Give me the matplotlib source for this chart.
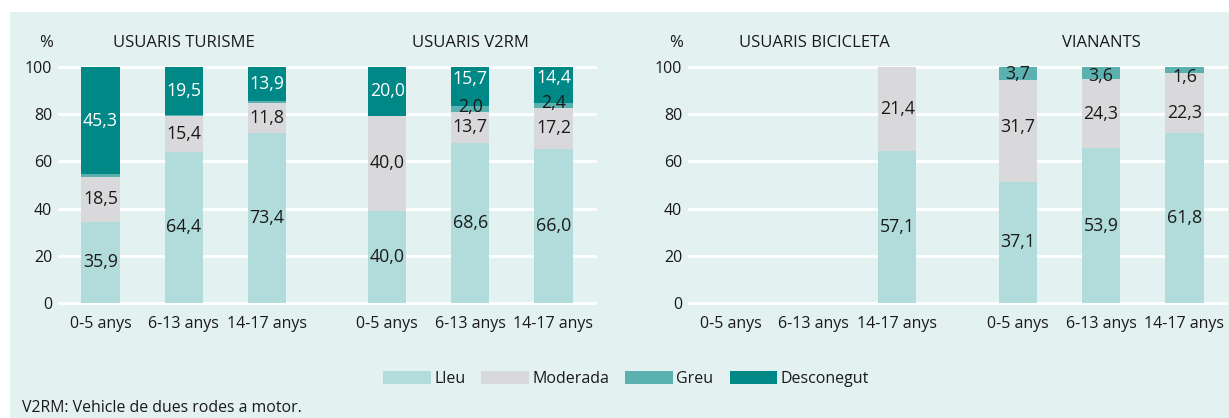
import matplotlib
matplotlib.use("Agg")
import matplotlib.pyplot as plt
from matplotlib.patches import Rectangle, Patch

plt.rcParams['font.family'] = ['Open Sans', 'DejaVu Sans']

ages = ["0-5 anys", "6-13 anys", "14-17 anys"]
series = ["Lleu", "Moderada", "Greu", "Desconegut"]
colors = ["#b2dbdb", "#d9d9db", "#5bb1b0", "#008887"]

# Drawn bar segment heights, per group: [Lleu, Moderada, Greu, Desconegut] per age
turisme_h = [[34.5, 19.0, 1.0, 45.5], [64.1, 15.1, 0.5, 20.3], [72.1, 12.7, 0.8, 14.4]]
v2rm_h = [[39.0, 40.2, 0.0, 20.8], [67.9, 13.1, 2.4, 16.6], [65.2, 17.5, 2.1, 15.2]]
bicicleta_h = [[0, 0, 0, 0], [0, 0, 0, 0], [64.4, 35.6, 0.0, 0.0]]
vianants_h = [[51.4, 43.0, 5.6, 0.0], [65.6, 29.2, 5.2, 0.0], [72.0, 25.5, 2.5, 0.0]]

# Label values shown on the bars (None = no label)
turisme_lab = [[35.9, 18.5, None, 45.3], [64.4, 15.4, None, 19.5], [73.4, 11.8, None, 13.9]]
v2rm_lab = [[40.0, 40.0, None, 20.0], [68.6, 13.7, 2.0, 15.7], [66.0, 17.2, 2.4, 14.4]]
bicicleta_lab = [[None] * 4, [None] * 4, [57.1, 21.4, None, None]]
vianants_lab = [[37.1, 31.7, 3.7, None], [53.9, 24.3, 3.6, None], [61.8, 22.3, 1.6, None]]

panels = [
    (["USUARIS TURISME", "USUARIS V2RM"], [turisme_h, v2rm_h], [turisme_lab, v2rm_lab]),
    (["USUARIS BICICLETA", "VIANANTS"], [bicicleta_h, vianants_h], [bicicleta_lab, vianants_lab]),
]

# label nudges (panel, group, age, series) -> dy
nudges = {
    (0, 1, 1, 3): 3.3, (0, 1, 2, 3): 3.0,
    (0, 1, 1, 2): 0.9, (0, 1, 2, 2): 0.8,
    (1, 1, 0, 2): -0.3, (1, 1, 1, 2): -1.2, (1, 1, 2, 2): -3.3,
    (1, 1, 2, 1): -4.4, (1, 1, 0, 1): 1.7,
}

W, H = 1229, 418
fig = plt.figure(figsize=(W / 100, H / 100), dpi=100)
fig.patch.set_facecolor("white")
bg = "#e4f1f1"
fig.add_artist(Rectangle((10 / W, 0), 1 - 10 / W, (H - 12) / H, transform=fig.transFigure,
                         facecolor=bg, edgecolor="none", zorder=-10))

ax_rects = [(59 / W, 114.7 / H, 536 / W, 236.6 / H), (689 / W, 114.7 / H, 537 / W, 236.6 / H)]
group_offsets = [0.0, 3.45]
bw = 0.46
fs = 11.5
fs_lab = 12.8
txt = "#1a1a1a"

for pi, (titles, heights, labels) in enumerate(panels):
    ax = fig.add_axes(ax_rects[pi])
    ax.set_facecolor("none")
    ax.set_xlim(-0.5, 5.95)
    ax.set_ylim(0, 100)
    for s in ax.spines.values():
        s.set_visible(False)
    for yv in range(0, 101, 20):
        ax.axhline(yv, color="white", lw=2, zorder=0, clip_on=False)
    ax.set_yticks(range(0, 101, 20))
    ax.tick_params(axis="y", length=0, pad=5, labelsize=fs, labelcolor=txt)
    xt, xl = [], []
    for gi in range(2):
        for ai in range(3):
            x = group_offsets[gi] + ai
            xt.append(x)
            xl.append(ages[ai])
            bottom = 0
            for si in range(4):
                h = heights[gi][ai][si]
                if h > 0:
                    ax.bar(x, h, bottom=bottom, width=bw, color=colors[si], zorder=2, linewidth=0)
                lab = labels[gi][ai][si]
                if lab is not None:
                    y = bottom + h / 2 + nudges.get((pi, gi, ai, si), 0)
                    tc = "white" if si == 3 else txt
                    ax.text(x, y, f"{lab:.1f}".replace(".", ","), ha="center", va="center",
                            fontsize=fs_lab, color=tc, zorder=3)
                bottom += h
        ax.text(group_offsets[gi] + 1, 110.0, titles[gi], ha="center", va="center",
                fontsize=12, color=txt)
    ax.text(-0.5 - 6 / 83, 110.0, "%", ha="right", va="center", fontsize=12, color=txt)
    ax.set_xticks(xt)
    ax.set_xticklabels(xl)
    ax.tick_params(axis="x", length=0, pad=9, labelsize=fs, labelcolor=txt)

handles = [Patch(facecolor=c, edgecolor="none") for c in colors]
fig.legend(handles, series, loc="center", bbox_to_anchor=(626 / W, 1 - 379 / H), ncol=4,
           frameon=False, fontsize=fs, handlelength=3.0, handleheight=0.9, handletextpad=0.2,
           columnspacing=1.0, labelcolor=txt)

fig.text(22 / W, 1 - 408 / H, "V2RM: Vehicle de dues rodes a motor.", ha="left", va="center",
         fontsize=11.4, color=txt)

fig.savefig("out.png", dpi=100, facecolor="white")
